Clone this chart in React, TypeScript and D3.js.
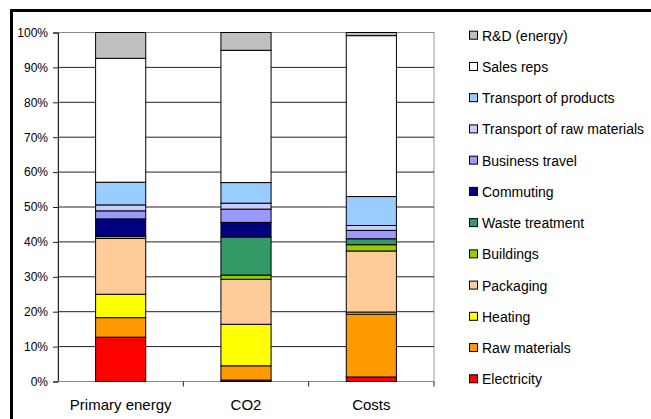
import React, { useEffect, useRef } from 'react';
import * as d3 from 'd3';

const categories = ['Primary energy', 'CO2', 'Costs'];

// stacking order bottom -> top
const seriesNames = [
  'Electricity', 'Raw materials', 'Heating', 'Packaging', 'Buildings',
  'Waste treatment', 'Commuting', 'Business travel', 'Transport of raw materials',
  'Transport of products', 'Sales reps', 'R&D (energy)',
];
const seriesColors = [
  '#FF0000', '#FF9900', '#FFFF00', '#FFCC99', '#99CC00',
  '#339966', '#000080', '#9999FF', '#CCCCFF',
  '#99CCFF', '#FFFFFF', '#C0C0C0',
];

// percent share per category, same order as seriesNames
const primaryEnergy = [12.7, 5.6, 6.7, 16.0, 0.6, 0.2, 4.8, 2.3, 1.7, 6.5, 35.5, 7.4];
const co2 = [0.4, 4.1, 11.9, 12.9, 1.2, 10.9, 4.2, 3.8, 1.7, 5.9, 37.9, 5.1];
const costs = [1.3, 18.0, 0.6, 17.5, 1.8, 1.7, 0.0, 2.4, 1.4, 8.3, 46.1, 0.9];

const yTicks = [0, 10, 20, 30, 40, 50, 60, 70, 80, 90, 100];

const App = () => {
  const svgRef = useRef<SVGSVGElement>(null);

  useEffect(() => {
    const svg = d3.select(svgRef.current);
    svg.selectAll('*').remove();
    const font = '"Liberation Sans", Arial, sans-serif';

    const left = 58, right = 434, top = 32.5, bottom = 381.5;

    // outer frame
    svg.append('rect')
      .attr('x', 11.5).attr('y', 10.5)
      .attr('width', 700).attr('height', 500)
      .attr('fill', 'white').attr('stroke', '#000').attr('stroke-width', 3);

    const x = d3.scaleBand().domain(categories).range([left, right])
      .paddingInner(0.6).paddingOuter(0.3);
    const y = d3.scaleLinear().domain([0, 100]).range([bottom, top]);

    // plot frame
    svg.append('rect')
      .attr('x', left).attr('y', top)
      .attr('width', right - left).attr('height', bottom - top)
      .attr('fill', 'white').attr('stroke', '#999').attr('stroke-width', 1);

    // gridlines
    svg.append('g').selectAll('line')
      .data(yTicks)
      .enter().append('line')
      .attr('x1', left).attr('x2', right)
      .attr('y1', (d) => y(d)).attr('y2', (d) => y(d))
      .attr('stroke', (d) => (d === 0 || d === 100 ? '#888' : '#222'))
      .attr('stroke-width', 1);

    // y axis
    const yAxis = svg.append('g').attr('transform', `translate(${left},0)`)
      .call(d3.axisLeft(y).tickValues(yTicks).tickSize(5).tickFormat((d) => `${d}%`));
    yAxis.select('.domain').attr('stroke', '#222');
    yAxis.selectAll('.tick line').attr('stroke', '#222');
    yAxis.selectAll('text')
      .attr('x', -10)
      .style('font-family', font).style('font-size', '12px').attr('fill', '#000');

    // x axis baseline + ticks between categories
    svg.append('line')
      .attr('x1', left).attr('x2', right).attr('y1', bottom).attr('y2', bottom)
      .attr('stroke', '#888');
    const step = x.step();
    svg.append('g').selectAll('line')
      .data(categories)
      .enter().append('line')
      .attr('x1', (d, i) => left + step * (i + 1))
      .attr('x2', (d, i) => left + step * (i + 1))
      .attr('y1', bottom).attr('y2', bottom + 5)
      .attr('stroke', '#222');
    svg.append('g').selectAll('text')
      .data(categories)
      .enter().append('text')
      .attr('x', (d) => (x(d) as number) + x.bandwidth() / 2)
      .attr('y', 410)
      .attr('text-anchor', 'middle')
      .style('font-family', font).style('font-size', '15px')
      .text((d) => d);

    // stacked bars
    const values = [primaryEnergy, co2, costs];
    const rows = categories.map((c, ci) => {
      const row: any = { category: c };
      seriesNames.forEach((s, si) => { row[s] = values[ci][si]; });
      return row;
    });
    const stack = d3.stack().keys(seriesNames);
    const layers = stack(rows);

    svg.append('g').selectAll('g')
      .data(layers)
      .enter().append('g')
      .attr('fill', (d, i) => seriesColors[i])
      .selectAll('rect')
      .data((d) => d.filter((p) => p[1] - p[0] > 0))
      .enter().append('rect')
      .attr('x', (d) => x(d.data.category as any) as number)
      .attr('width', x.bandwidth())
      .attr('y', (d) => y(d[1]))
      .attr('height', (d) => y(d[0]) - y(d[1]))
      .attr('stroke', '#000').attr('stroke-width', 1);

    // legend (top item is last series)
    const legendNames = seriesNames.slice().reverse();
    const legendColors = seriesColors.slice().reverse();
    const ly = d3.scaleLinear().domain([0, legendNames.length - 1]).range([35.7, 379.3]);
    const legend = svg.append('g').selectAll('g')
      .data(legendNames)
      .enter().append('g')
      .attr('transform', (d, i) => `translate(469,${ly(i)})`);
    legend.append('rect')
      .attr('x', 0.5).attr('y', -4.5).attr('width', 8).attr('height', 8)
      .attr('fill', (d, i) => legendColors[i])
      .attr('stroke', '#000').attr('stroke-width', 1);
    legend.append('text')
      .attr('x', 13).attr('y', 5)
      .style('font-family', font).style('font-size', '14px')
      .attr('fill', '#000')
      .text((d) => d);
  }, []);

  return (
    <div style={{ position: 'fixed', left: 0, top: 0 }}>
      <svg ref={svgRef} width={651} height={419} style={{ display: 'block' }} />
    </div>
  );
};

export default App;
